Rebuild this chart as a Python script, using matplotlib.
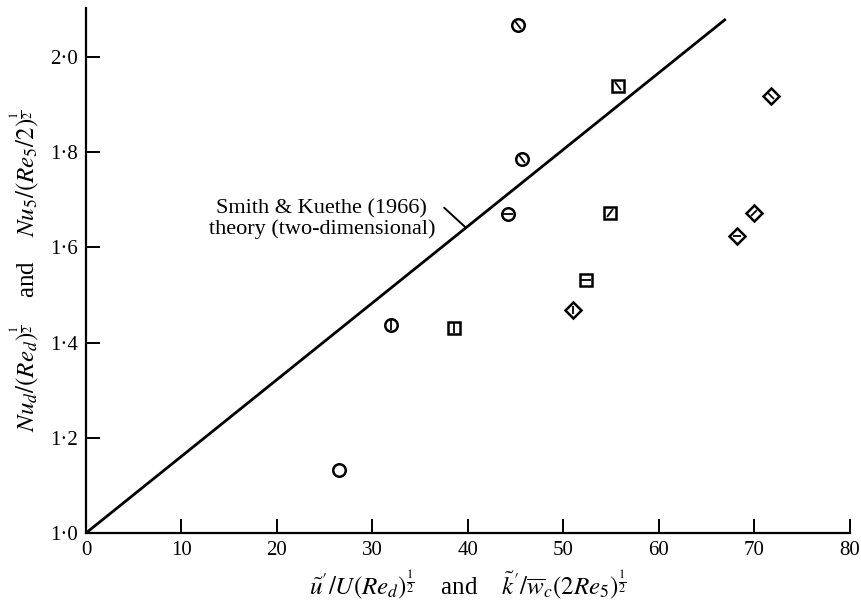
import matplotlib
matplotlib.use("Agg")
import matplotlib.pyplot as plt
import numpy as np
from matplotlib.markers import MarkerStyle
from matplotlib.transforms import Affine2D

plt.rcParams["font.family"] = ["Liberation Serif", "DejaVu Serif"]
plt.rcParams["mathtext.fontset"] = "stix"

# circles
circ_x = [45.3, 45.7, 44.2, 31.9, 26.5]
circ_y = [2.068, 1.785, 1.670, 1.438, 1.132]
circ_ang = [-60, -60, 0, 90, None]

# squares
sq_x = [55.7, 38.5, 54.9, 52.4]
sq_y = [1.940, 1.431, 1.672, 1.532]
sq_ang = [-55, 90, 55, 0]

# diamonds
dia_x = [51.0, 71.8, 70.0, 68.2]
dia_y = [1.469, 1.919, 1.672, 1.624]
dia_ang = [90, -45, 45, 0]

# theory line (Smith & Kuethe 1966)
theory_x = [0.0, 66.9]
theory_y = [1.0, 2.078]

xticks = [0, 10, 20, 30, 40, 50, 60, 70, 80]
yticks = [1.0, 1.2, 1.4, 1.6, 1.8, 2.0]


def draw_group(ax, xs, ys, angs, marker, size):
    ax.plot(xs, ys, linestyle="none", marker=marker, markersize=size,
            markerfacecolor="white", markeredgecolor="black",
            markeredgewidth=1.8, zorder=3)
    for x, y, a in zip(xs, ys, angs):
        if a is None:
            continue
        m = MarkerStyle("_", transform=Affine2D().rotate_deg(a))
        ax.plot([x], [y], linestyle="none", marker=m, markersize=size * 0.8,
                markeredgecolor="black", markeredgewidth=1.3, zorder=4)


fig = plt.figure(figsize=(8.62, 6.0), dpi=100)
ax = fig.add_axes([0.0998, 0.1117, 0.886, 0.875])

ax.plot(theory_x, theory_y, color="black", lw=2.0, zorder=2)

draw_group(ax, circ_x, circ_y, circ_ang, "o", 9)
draw_group(ax, sq_x, sq_y, sq_ang, "s", 8.5)
draw_group(ax, dia_x, dia_y, dia_ang, "D", 8)

# leader from label to the line
ax.annotate("Smith & Kuethe (1966)\ntheory (two-dimensional)",
            xy=(39.8, 1.0 + 39.8 * (theory_y[1] - 1.0) / theory_x[1]),
            xytext=(24.7, 1.660), textcoords="data",
            ha="center", va="center", fontsize=16, linespacing=1.05,
            arrowprops=dict(arrowstyle="-", color="black", lw=1.4,
                            shrinkA=0, shrinkB=0,
                            relpos=(1.04, 0.78)))

ax.set_xlim(0, 80)
ax.set_ylim(1.0, 2.103)
ax.set_xticks(xticks)
ax.set_xticklabels([str(t) for t in xticks])
ax.set_yticks(yticks)
ax.set_yticklabels([f"{t:.1f}".replace(".", "\u00b7") for t in yticks])

for s in ["top", "right"]:
    ax.spines[s].set_visible(False)
for s in ["left", "bottom"]:
    ax.spines[s].set_linewidth(1.6)

ax.tick_params(direction="in", length=10, width=1.4, labelsize=15, pad=6)

ax.set_xlabel(r"$\tilde{u}'/U(Re_d)^{\frac{1}{2}}$    and    "
              r"$\tilde{k}'/\overline{w}_c(2Re_5)^{\frac{1}{2}}$",
              fontsize=18, labelpad=6)
ax.set_ylabel(r"$Nu_d/(Re_d)^{\frac{1}{2}}$    and    "
              r"$Nu_5/(Re_5/2)^{\frac{1}{2}}$",
              fontsize=18, labelpad=6)

fig.savefig("out.png", dpi=100)
